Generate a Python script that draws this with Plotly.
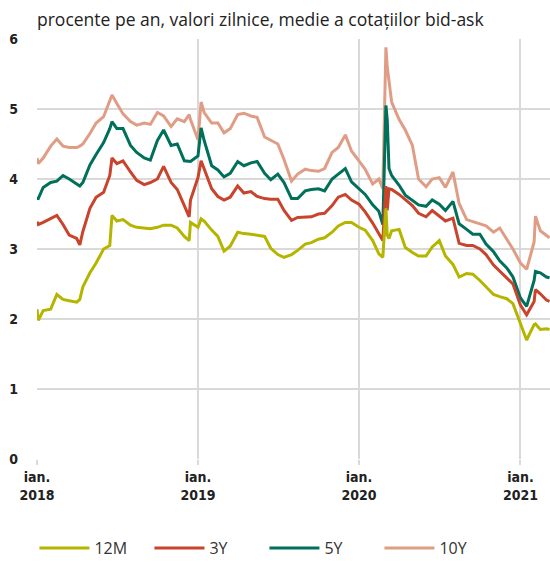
import plotly.graph_objects as go

dates = [
    "2018-01-01", "2018-01-04", "2018-01-15", "2018-02-01", "2018-02-15", "2018-03-01", "2018-03-15",
    "2018-04-01", "2018-04-08", "2018-04-15", "2018-05-01", "2018-05-15", "2018-06-01", "2018-06-15",
    "2018-06-20", "2018-07-01", "2018-07-15", "2018-08-01", "2018-08-15", "2018-09-01", "2018-09-15",
    "2018-10-01", "2018-10-15", "2018-11-01", "2018-11-15", "2018-12-01", "2018-12-12", "2018-12-15",
    "2019-01-01", "2019-01-08", "2019-01-15", "2019-02-01", "2019-02-15", "2019-03-01", "2019-03-15",
    "2019-04-01", "2019-04-15", "2019-05-01", "2019-05-15", "2019-06-01", "2019-06-15", "2019-07-01",
    "2019-07-15", "2019-08-01", "2019-08-15", "2019-09-01", "2019-09-15", "2019-10-01", "2019-10-15",
    "2019-11-01", "2019-11-15", "2019-12-01", "2019-12-15",
    "2020-01-01", "2020-01-15", "2020-02-01", "2020-02-15", "2020-02-24", "2020-03-02", "2020-03-05",
    "2020-03-09", "2020-03-15", "2020-04-01", "2020-04-15", "2020-05-01", "2020-05-15", "2020-06-01",
    "2020-06-15", "2020-07-01", "2020-07-15", "2020-08-01", "2020-08-15", "2020-09-01", "2020-09-15",
    "2020-10-01", "2020-10-15", "2020-11-01", "2020-11-15", "2020-12-01", "2020-12-15",
    "2021-01-01", "2021-01-15", "2021-02-01", "2021-02-04", "2021-02-15", "2021-03-01", "2021-03-08",
]

y10 = [
    4.30, 4.22, 4.30, 4.47, 4.57, 4.47, 4.45, 4.45, 4.47, 4.50, 4.65, 4.80, 4.89, 5.10,
    5.20, 5.08, 4.93, 4.82, 4.77, 4.80, 4.78, 4.95, 4.90, 4.75, 4.86, 4.82, 4.92, 4.85,
    4.56, 5.10, 4.95, 4.80, 4.80, 4.66, 4.72, 4.92, 4.94, 4.90, 4.88, 4.60, 4.55, 4.50,
    4.28, 3.97, 4.07, 4.14, 4.12, 4.11, 4.15, 4.38, 4.45, 4.63, 4.40,
    4.25, 4.14, 3.93, 4.00, 3.86, 5.88, 5.60, 5.40, 5.10, 4.85, 4.70, 4.48, 4.00, 3.89,
    4.00, 4.02, 3.88, 4.10, 3.65, 3.42, 3.39, 3.35, 3.33, 3.24, 3.30, 3.14, 3.00,
    2.80, 2.71, 3.10, 3.47, 3.26, 3.20, 3.16,
]

y5 = [
    3.72, 3.72, 3.88, 3.95, 3.97, 4.05, 4.00, 3.92, 3.90, 3.95, 4.20, 4.35, 4.52, 4.72,
    4.82, 4.72, 4.72, 4.48, 4.38, 4.30, 4.27, 4.55, 4.70, 4.48, 4.50, 4.26, 4.25, 4.25,
    4.33, 4.73, 4.55, 4.19, 4.13, 4.03, 4.08, 4.25, 4.19, 4.23, 4.25, 4.08, 3.99, 4.07,
    3.95, 3.72, 3.72, 3.83, 3.85, 3.86, 3.83, 4.00, 4.07, 4.15, 3.96,
    3.86, 3.78, 3.63, 3.54, 3.35, 5.05, 4.85, 4.15, 4.05, 3.91, 3.77, 3.69, 3.63, 3.61,
    3.70, 3.64, 3.55, 3.68, 3.36, 3.28, 3.21, 3.21, 3.07, 2.96, 2.83, 2.73, 2.60,
    2.30, 2.18, 2.55, 2.68, 2.66, 2.60, 2.59,
]

y3 = [
    3.39, 3.35, 3.38, 3.44, 3.48, 3.35, 3.20, 3.15, 3.06, 3.25, 3.58, 3.74, 3.81, 4.05,
    4.30, 4.22, 4.26, 4.10, 3.98, 3.92, 3.95, 4.00, 4.18, 3.95, 3.85, 3.62, 3.46, 3.70,
    4.02, 4.26, 4.15, 3.86, 3.75, 3.70, 3.74, 3.90, 3.80, 3.82, 3.75, 3.72, 3.71, 3.71,
    3.55, 3.41, 3.45, 3.45, 3.46, 3.50, 3.51, 3.62, 3.74, 3.78, 3.70,
    3.64, 3.53, 3.37, 3.23, 3.12, 3.90, 3.55, 3.86, 3.85, 3.78, 3.70, 3.62, 3.51, 3.46,
    3.55, 3.47, 3.40, 3.44, 3.08, 3.05, 3.05, 3.00, 2.92, 2.77, 2.68, 2.59, 2.50,
    2.20, 2.06, 2.25, 2.42, 2.36, 2.27, 2.25,
]

y12m = [
    2.14, 1.98, 2.12, 2.14, 2.35, 2.28, 2.26, 2.24, 2.28, 2.46, 2.66, 2.80, 3.00, 3.05,
    3.48, 3.40, 3.42, 3.34, 3.31, 3.30, 3.29, 3.31, 3.34, 3.34, 3.30, 3.18, 3.12, 3.38,
    3.31, 3.43, 3.40, 3.27, 3.18, 2.97, 3.04, 3.24, 3.22, 3.21, 3.20, 3.18, 3.01, 2.92,
    2.88, 2.92, 2.98, 3.07, 3.09, 3.14, 3.16, 3.24, 3.33, 3.38, 3.38,
    3.31, 3.27, 3.12, 2.93, 2.88, 3.58, 3.20, 3.15, 3.26, 3.28, 3.02, 2.95, 2.90, 2.90,
    3.03, 3.12, 2.90, 2.78, 2.60, 2.65, 2.64, 2.55, 2.46, 2.35, 2.32, 2.29, 2.22,
    1.92, 1.70, 1.92, 1.93, 1.85, 1.86, 1.85,
]

series_names = ["12M", "3Y", "5Y", "10Y"]
series_values = [y12m, y3, y5, y10]
series_colors = ["#b5b500", "#c8442d", "#00705a", "#e09d86"]

tick_vals = ["2018-01-01", "2019-01-01", "2020-01-01", "2021-01-01"]
tick_text = ["ian.<br>2018", "ian.<br>2019", "ian.<br>2020", "ian.<br>2021"]

title_text = "procente pe an, valori zilnice, medie a cotațiilor bid-ask"

fig = go.Figure()
# draw longest maturity first so shorter maturities sit on top
for i in reversed(range(len(series_names))):
    fig.add_trace(go.Scatter(
        x=dates, y=series_values[i], name=series_names[i], mode="lines",
        line=dict(color=series_colors[i], width=3),
        legendrank=i + 1,
    ))

grid = "#d9d9d9"
tick_font = dict(family="DejaVu Sans Condensed, Liberation Sans Narrow, sans-serif",
                 size=14, color="#222", weight=600)
fig.update_layout(
    width=550, height=563,
    margin=dict(l=37, r=0, t=39, b=104, autoexpand=False),
    paper_bgcolor="white", plot_bgcolor="white",
    font=dict(family="DejaVu Sans Condensed, sans-serif", color="#222"),
    showlegend=True,
    legend=dict(
        orientation="h", x=-0.005, xanchor="left",
        y=-0.212, yanchor="middle",
        font=dict(family="Open Sans, sans-serif", size=16, color="#333"),
        entrywidth=50, entrywidthmode="pixels", itemwidth=50,
        traceorder="normal",
    ),
    annotations=[dict(
        text=title_text, xref="paper", yref="paper", x=-0.003, y=1.0,
        xanchor="left", yanchor="bottom", yshift=6, showarrow=False,
        font=dict(family="Open Sans, sans-serif", size=17.5, color="#222"),
    )],
)

fig.update_xaxes(
    type="date", range=["2018-01-01", "2021-03-09"],
    tickvals=tick_vals, ticktext=tick_text,
    showgrid=True, gridcolor=grid, gridwidth=2,
    ticks="outside", ticklen=5, tickcolor=grid, tickwidth=2,
    tickfont=tick_font,
    showline=False, zeroline=False,
)
fig.update_yaxes(
    range=[0, 6], dtick=1, tick0=0,
    showgrid=True, gridcolor=grid, gridwidth=2,
    zeroline=False, showline=False,
    ticks="", ticklabelstandoff=18,
    tickfont=tick_font,
)

fig.write_html("out.html", config={"displayModeBar": False},
               post_script="document.body.style.margin='0px';")
